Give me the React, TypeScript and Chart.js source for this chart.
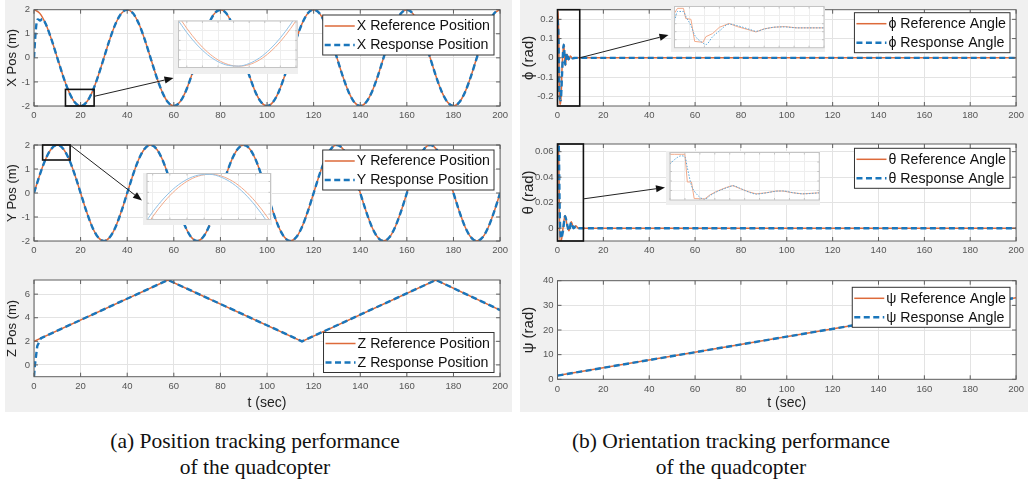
import React, { useEffect, useRef } from "react";
import { Chart, registerables } from "chart.js";

Chart.register(...registerables);

const SANS = '"Liberation Sans", Arial, Helvetica, sans-serif';
const SERIF = '"Liberation Serif", "Times New Roman", Times, serif';

const ORANGE = "#DD6A3A";
const BLUE = "#1A76BB";
const ORANGE_SOFT = "#F2AA8A";
const BLUE_SOFT = "#93C2E6";
const BLUE_DOT = "#5AA6DA";

// ---------- shared ticks ----------
const timeTicks = [0, 20, 40, 60, 80, 100, 120, 140, 160, 180, 200];

// ---------- (a) position tracking ----------
const tPos = [
  0, 2.5, 5, 7.5, 10, 12.5, 15, 17.5, 20, 22.5, 25, 27.5, 30, 32.5, 35, 37.5,
  40, 42.5, 45, 47.5, 50, 52.5, 55, 57.5, 60, 62.5, 65, 67.5, 70, 72.5, 75, 77.5,
  80, 82.5, 85, 87.5, 90, 92.5, 95, 97.5, 100, 102.5, 105, 107.5, 110, 112.5, 115, 117.5,
  120, 122.5, 125, 127.5, 130, 132.5, 135, 137.5, 140, 142.5, 145, 147.5, 150, 152.5, 155, 157.5,
  160, 162.5, 165, 167.5, 170, 172.5, 175, 177.5, 180, 182.5, 185, 187.5, 190, 192.5, 195, 197.5,
  200,
];
const xRef = [
  2, 1.848, 1.414, 0.765, 0, -0.765, -1.414, -1.848, -2, -1.848, -1.414, -0.765, 0, 0.765, 1.414, 1.848,
  2, 1.848, 1.414, 0.765, 0, -0.765, -1.414, -1.848, -2, -1.848, -1.414, -0.765, 0, 0.765, 1.414, 1.848,
  2, 1.848, 1.414, 0.765, 0, -0.765, -1.414, -1.848, -2, -1.848, -1.414, -0.765, 0, 0.765, 1.414, 1.848,
  2, 1.848, 1.414, 0.765, 0, -0.765, -1.414, -1.848, -2, -1.848, -1.414, -0.765, 0, 0.765, 1.414, 1.848,
  2, 1.848, 1.414, 0.765, 0, -0.765, -1.414, -1.848, -2, -1.848, -1.414, -0.765, 0, 0.765, 1.414, 1.848,
  2,
];
const tXRespStart = [0, 0.5, 1.1, 1.7, 2.6, 3.6];
const xRespStart = [0, 0.8, 1.45, 1.6, 1.55, 1.62];
const tXResp = [...tXRespStart, ...tPos.slice(2)];
const xResp = [...xRespStart, ...xRef.slice(2)];

const yRef = [
  0, 0.765, 1.414, 1.848, 2, 1.848, 1.414, 0.765, 0, -0.765, -1.414, -1.848, -2, -1.848, -1.414, -0.765,
  0, 0.765, 1.414, 1.848, 2, 1.848, 1.414, 0.765, 0, -0.765, -1.414, -1.848, -2, -1.848, -1.414, -0.765,
  0, 0.765, 1.414, 1.848, 2, 1.848, 1.414, 0.765, 0, -0.765, -1.414, -1.848, -2, -1.848, -1.414, -0.765,
  0, 0.765, 1.414, 1.848, 2, 1.848, 1.414, 0.765, 0, -0.765, -1.414, -1.848, -2, -1.848, -1.414, -0.765,
  0, 0.765, 1.414, 1.848, 2, 1.848, 1.414, 0.765, 0, -0.765, -1.414, -1.848, -2, -1.848, -1.414, -0.765,
  0,
];
const yResp = yRef.slice();

const tZRef = [0, 57.5, 115, 172.5, 200];
const zRef = [2, 7.2, 2, 7.2, 4.65];
const tZResp = [0, 0.4, 1.4, 3, 57.5, 115, 172.5, 200];
const zResp = [-1, 0, 1.6, 2.27, 7.2, 2, 7.2, 4.65];

// insets of (a)
const tXIn = [14, 15, 16, 17, 18, 19, 20, 21, 22, 23, 24, 25, 26];
const xInRef = [-1.176, -1.414, -1.618, -1.782, -1.902, -1.975, -2, -1.975, -1.902, -1.782, -1.618, -1.414, -1.176];
const xInResp = [-1.25, -1.479, -1.672, -1.823, -1.929, -1.988, -1.998, -1.958, -1.871, -1.737, -1.561, -1.347, -1.098];
const tYIn = [4, 5, 6, 7, 8, 9, 10, 11, 12, 13, 14, 15, 16];
const yInRef = [1.176, 1.414, 1.618, 1.782, 1.902, 1.975, 2, 1.975, 1.902, 1.782, 1.618, 1.414, 1.176];
const yInResp = [1.25, 1.479, 1.672, 1.823, 1.929, 1.988, 1.998, 1.958, 1.871, 1.737, 1.561, 1.347, 1.098];

// ---------- (b) orientation tracking ----------
const tPhi = [0, 0.4, 0.9, 1.4, 2.0, 2.7, 3.4, 4.1, 4.8, 5.6, 6.5, 8, 10, 200];
const phiRef = [0.24, 0.24, -0.24, -0.24, -0.05, 0.07, -0.04, 0.02, -0.01, 0.01, -0.003, 0, 0, 0];
const phiResp = [0.2, 0.12, -0.2, -0.22, -0.08, 0.068, -0.035, 0.024, -0.008, 0.008, -0.002, 0, 0, 0];

const tTheta = [0, 0.5, 1.0, 1.6, 2.4, 3.3, 4.2, 5.0, 6.0, 7.0, 8.0, 9.0, 11, 200];
const thetaRef = [0.066, 0.066, -0.01, -0.01, 0.0, 0.01, 0.002, -0.002, 0.005, 0.0, 0.002, 0, 0, 0];
const thetaResp = [0.06, 0.066, 0.01, -0.008, -0.002, 0.0095, 0.003, -0.002, 0.0045, 0, 0.0015, 0, 0, 0];

const tPsi = [0, 200];
const psiRef = [1.5, 33.1];
const psiResp = [1.5, 33.1];

// insets of (b) (normalised zoom windows)
const uPhi = [0, 0.2, 0.6, 0.75, 1.1, 1.35, 1.9, 2.1, 2.55, 3.0, 3.65, 4.2, 5.1, 5.45, 6.0, 6.65, 7.35, 8.2, 10];
const phiInRef = [0.866, 0.984, 0.984, 0.73, 0.71, 0.157, 0.134, 0.276, 0.354, 0.51, 0.606, 0.528, 0.433, 0.394, 0.472, 0.512, 0.528, 0.496, 0.496];
const phiInResp = [0.67, 0.906, 0.906, 0.787, 0.551, 0.315, 0.118, 0.079, 0.276, 0.417, 0.59, 0.551, 0.449, 0.41, 0.465, 0.512, 0.52, 0.496, 0.496];

const uTheta = [0, 0.3, 0.75, 1.0, 1.16, 1.44, 1.62, 2.33, 2.67, 3.11, 3.78, 4.22, 4.67, 5.33, 5.78, 6.44, 7.11, 7.56, 8.22, 8.89, 10];
const thetaInRef = [0.962, 0.962, 0.962, 0.962, 0.379, 0.379, 0.03, 0.023, 0.106, 0.18, 0.265, 0.303, 0.242, 0.167, 0.129, 0.152, 0.189, 0.189, 0.152, 0.129, 0.152];
const thetaInResp = [0.758, 0.85, 0.93, 0.909, 0.68, 0.303, 0.19, 0.015, 0.09, 0.17, 0.255, 0.3, 0.25, 0.16, 0.125, 0.15, 0.185, 0.19, 0.155, 0.13, 0.15];

// ---------- types ----------
type Series = { t: number[]; v: number[]; color: string; width: number; dash?: number[]; smooth?: boolean };
type PlotCfg = {
  left: number; top: number; width: number; height: number;
  area: { left: number; top: number; right: number; bottom: number };
  xMin: number; xMax: number; xTicks: number[];
  yMin: number; yMax: number; yTicks: number[];
  labels: boolean;
  inset?: boolean;
  yTitle?: string; yTitleX?: number; yTitleSize?: number;
  xTitle?: string; xTitleY?: number;
  series: Series[];
  legend?: { labels: string[]; top: number; right: number; size: number };
  box?: { x0: number; x1: number; y0: number; y1: number };
  arrow?: { fx: number; fy: number; tx: number; ty: number };
};

const fmt = (v: number) => String(Math.round(v * 1000) / 1000);

function buildChart(canvas: HTMLCanvasElement, cfg: PlotCfg) {
  const padTop = cfg.area.top - cfg.top;
  const padRight = cfg.left + cfg.width - cfg.area.right;
  const yW = cfg.area.left - cfg.left;
  const xH = cfg.top + cfg.height - cfg.area.bottom;
  const ySize = cfg.yTitleSize ?? 11;
  const yTitlePad = cfg.yTitleX != null ? cfg.yTitleX - cfg.left - (ySize * 1.2) / 2 : 0;
  const xSize = 14;
  const xTitlePad = cfg.xTitleY != null ? Math.max(0, cfg.top + cfg.height - cfg.xTitleY - (xSize * 1.2) / 2) : 0;
  const boxColor = cfg.inset ? "#c4c4c4" : "#5e5e5e";
  const gridColor = cfg.inset ? "#eeeeee" : "#e3e3e3";
  const tickLen = cfg.inset ? 2 : 4;

  const frame = {
    id: "frame",
    beforeDraw(chart: any) {
      const { ctx, chartArea: a } = chart;
      ctx.save();
      if (cfg.inset) {
        ctx.fillStyle = "#efefef";
        ctx.fillRect(0, 0, chart.width, chart.height);
      }
      ctx.fillStyle = "#ffffff";
      ctx.fillRect(a.left, a.top, a.right - a.left, a.bottom - a.top);
      ctx.restore();
    },
    afterDatasetsDraw(chart: any) {
      const { ctx, chartArea: a, scales } = chart;
      const xs = scales.x, ys = scales.y;
      ctx.save();
      // inward ticks on all four sides
      ctx.strokeStyle = boxColor;
      ctx.lineWidth = 1;
      ctx.beginPath();
      for (const v of cfg.xTicks) {
        const px = xs.getPixelForValue(v);
        ctx.moveTo(px, a.bottom); ctx.lineTo(px, a.bottom - tickLen);
        ctx.moveTo(px, a.top); ctx.lineTo(px, a.top + tickLen);
      }
      for (const v of cfg.yTicks) {
        const py = ys.getPixelForValue(v);
        ctx.moveTo(a.left, py); ctx.lineTo(a.left + tickLen, py);
        ctx.moveTo(a.right, py); ctx.lineTo(a.right - tickLen, py);
      }
      ctx.stroke();
      ctx.strokeRect(a.left, a.top, a.right - a.left, a.bottom - a.top);

      // zoom rectangle
      if (cfg.box) {
        const b = cfg.box;
        const x0 = xs.getPixelForValue(b.x0), x1 = xs.getPixelForValue(b.x1);
        const y0 = ys.getPixelForValue(b.y0), y1 = ys.getPixelForValue(b.y1);
        ctx.strokeStyle = "#111";
        ctx.lineWidth = 1.6;
        ctx.strokeRect(x0, y1, x1 - x0, y0 - y1);
      }
      // arrow to inset
      if (cfg.arrow) {
        const ar = cfg.arrow;
        const fx = xs.getPixelForValue(ar.fx), fy = ys.getPixelForValue(ar.fy);
        const tx = ar.tx - cfg.left, ty = ar.ty - cfg.top;
        const ang = Math.atan2(ty - fy, tx - fx);
        const hl = 9, hw = 3.5;
        const bx = tx - hl * Math.cos(ang), by = ty - hl * Math.sin(ang);
        ctx.strokeStyle = "#222";
        ctx.lineWidth = 1;
        ctx.beginPath();
        ctx.moveTo(fx, fy);
        ctx.lineTo(bx, by);
        ctx.stroke();
        ctx.fillStyle = "#111";
        ctx.beginPath();
        ctx.moveTo(tx, ty);
        ctx.lineTo(bx + hw * Math.sin(ang), by - hw * Math.cos(ang));
        ctx.lineTo(bx - hw * Math.sin(ang), by + hw * Math.cos(ang));
        ctx.closePath();
        ctx.fill();
      }
      // legend
      if (cfg.legend) {
        const L = cfg.legend;
        ctx.font = `${L.size}px ${SANS}`;
        const tw = Math.max(...L.labels.map((s) => ctx.measureText(s).width));
        const w = 34 + tw + 4;
        const h = 40;
        const right = L.right - cfg.left;
        const top = L.top - cfg.top;
        const left = right - w;
        ctx.fillStyle = "#fff";
        ctx.fillRect(left, top, w, h);
        ctx.strokeStyle = "#333";
        ctx.lineWidth = 1;
        ctx.strokeRect(left, top, w, h);
        const rows = [top + 11, top + 30];
        cfg.series.slice(0, 2).forEach((s, i) => {
          ctx.beginPath();
          ctx.strokeStyle = s.color;
          ctx.lineWidth = s.width;
          ctx.setLineDash(s.dash ?? []);
          ctx.moveTo(left + 2, rows[i]);
          ctx.lineTo(left + 32, rows[i]);
          ctx.stroke();
        });
        ctx.setLineDash([]);
        ctx.fillStyle = "#111";
        ctx.textAlign = "left";
        ctx.textBaseline = "middle";
        L.labels.forEach((s, i) => ctx.fillText(s, left + 34, rows[i] + 0.5));
      }
      ctx.restore();
    },
  };

  const n = cfg.series.length;
  return new Chart(canvas, {
    type: "line",
    data: {
      datasets: cfg.series.map((s, i) => ({
        data: s.t.map((t, k) => ({ x: t, y: s.v[k] })),
        borderColor: s.color,
        borderWidth: s.width,
        borderDash: s.dash ?? [],
        pointRadius: 0,
        fill: false,
        tension: 0,
        cubicInterpolationMode: s.smooth ? "monotone" : "default",
        order: n - i,
      })),
    },
    options: {
      animation: false,
      responsive: false,
      devicePixelRatio: 1,
      events: [],
      layout: { padding: { top: padTop, right: padRight, left: 0, bottom: 0 } },
      plugins: { legend: { display: false }, tooltip: { enabled: false }, title: { display: false } },
      scales: {
        x: {
          type: "linear",
          min: cfg.xMin,
          max: cfg.xMax,
          afterBuildTicks: (sc: any) => { sc.ticks = cfg.xTicks.map((v) => ({ value: v })); },
          afterFit: (sc: any) => { sc.height = xH; },
          ticks: {
            display: cfg.labels,
            autoSkip: false,
            maxRotation: 0,
            padding: 4,
            color: "#555",
            font: { family: SANS, size: 9.5 },
            callback: (v: any) => fmt(Number(v)),
          },
          grid: { color: gridColor, drawTicks: false, lineWidth: 1 },
          border: { display: false },
          title: {
            display: !!cfg.xTitle,
            text: cfg.xTitle ?? "",
            color: "#222",
            font: { family: SANS, size: xSize },
            padding: { top: 0, bottom: xTitlePad },
          },
        },
        y: {
          type: "linear",
          min: cfg.yMin,
          max: cfg.yMax,
          afterBuildTicks: (sc: any) => { sc.ticks = cfg.yTicks.map((v) => ({ value: v })); },
          afterFit: (sc: any) => { sc.width = yW; },
          ticks: {
            display: cfg.labels,
            autoSkip: false,
            padding: 4,
            color: "#555",
            font: { family: SANS, size: 9.5 },
            callback: (v: any) => fmt(Number(v)),
          },
          grid: { color: gridColor, drawTicks: false, lineWidth: 1 },
          border: { display: false },
          title: {
            display: !!cfg.yTitle,
            text: cfg.yTitle ?? "",
            color: "#222",
            font: { family: SANS, size: ySize },
            padding: { top: yTitlePad, bottom: 0 },
          },
        },
      },
    } as any,
    plugins: [frame as any],
  });
}

function Plot({ cfg }: { cfg: PlotCfg }) {
  const ref = useRef<HTMLCanvasElement>(null);
  useEffect(() => {
    const chart = buildChart(ref.current as HTMLCanvasElement, cfg);
    return () => chart.destroy();
  }, [cfg]);
  return (
    <canvas
      ref={ref}
      width={cfg.width}
      height={cfg.height}
      style={{ position: "absolute", left: cfg.left, top: cfg.top, width: cfg.width, height: cfg.height }}
    />
  );
}

const refLine = (t: number[], v: number[], smooth = false): Series => ({ t, v, color: ORANGE, width: 1.5, smooth });
const respLine = (t: number[], v: number[], smooth = false): Series => ({ t, v, color: BLUE, width: 2.4, dash: [6, 3.5], smooth });

const L_COL = { left: 0, width: 512, aLeft: 34, aRight: 502 };
const R_COL = { left: 515, width: 513, aLeft: 557.5, aRight: 1017.5 };
const LEG = 14.2;
const YT_L = 13;
const YT_R = 15;

const plots: PlotCfg[] = [
  {
    left: L_COL.left, top: 0, width: L_COL.width, height: 125,
    area: { left: L_COL.aLeft, top: 9.5, right: L_COL.aRight, bottom: 106 },
    xMin: 0, xMax: 200, xTicks: timeTicks, yMin: -2, yMax: 2, yTicks: [-2, -1, 0, 1, 2],
    labels: true, yTitle: "X Pos (m)", yTitleX: 12, yTitleSize: YT_L,
    series: [refLine(tPos, xRef, true), respLine(tXResp, xResp, true)],
    legend: { labels: ["X Reference Position", "X Response Position"], top: 15, right: 494, size: LEG },
    box: { x0: 13.5, x1: 25.8, y0: -2, y1: -1.31 },
    arrow: { fx: 25.8, fy: -1.6, tx: 173.5, ty: 78 },
  },
  {
    left: L_COL.left, top: 125, width: L_COL.width, height: 135,
    area: { left: L_COL.aLeft, top: 145, right: L_COL.aRight, bottom: 241 },
    xMin: 0, xMax: 200, xTicks: timeTicks, yMin: -2, yMax: 2, yTicks: [-2, -1, 0, 1, 2],
    labels: true, yTitle: "Y Pos (m)", yTitleX: 12, yTitleSize: YT_L,
    series: [refLine(tPos, yRef, true), respLine(tPos, yResp, true)],
    legend: { labels: ["Y Reference Position", "Y Response Position"], top: 150, right: 494, size: LEG },
    box: { x0: 3.7, x1: 15.5, y0: 1.375, y1: 2 },
    arrow: { fx: 15.5, fy: 2, tx: 142, ty: 200.5 },
  },
  {
    left: L_COL.left, top: 260, width: L_COL.width, height: 152,
    area: { left: L_COL.aLeft, top: 280, right: L_COL.aRight, bottom: 376.7 },
    xMin: 0, xMax: 200, xTicks: timeTicks, yMin: -1, yMax: 7.2, yTicks: [0, 2, 4, 6],
    labels: true, yTitle: "Z Pos (m)", yTitleX: 12, yTitleSize: YT_L,
    xTitle: "t (sec)", xTitleY: 403,
    series: [refLine(tZRef, zRef), respLine(tZResp, zResp)],
    legend: { labels: ["Z Reference Position", "Z Response Position"], top: 332.5, right: 494, size: LEG },
  },
  {
    left: R_COL.left, top: 0, width: R_COL.width, height: 125,
    area: { left: R_COL.aLeft, top: 6, right: R_COL.aRight, bottom: 106 },
    xMin: 0, xMax: 200, xTicks: timeTicks, yMin: -0.25, yMax: 0.25, yTicks: [-0.2, -0.1, 0, 0.1, 0.2],
    labels: true, yTitle: "ϕ (rad)", yTitleX: 529, yTitleSize: YT_R,
    series: [refLine(tPhi, phiRef, true), respLine(tPhi, phiResp, true)],
    legend: { labels: ["ϕ Reference Angle", "ϕ Response Angle"], top: 12.7, right: 1010, size: LEG },
    box: { x0: 0, x1: 9.7, y0: -0.25, y1: 0.25 },
    arrow: { fx: 9.7, fy: 0, tx: 668.5, ty: 35 },
  },
  {
    left: R_COL.left, top: 125, width: R_COL.width, height: 135,
    area: { left: R_COL.aLeft, top: 144, right: R_COL.aRight, bottom: 241 },
    xMin: 0, xMax: 200, xTicks: timeTicks, yMin: -0.01, yMax: 0.066, yTicks: [0, 0.02, 0.04, 0.06],
    labels: true, yTitle: "θ (rad)", yTitleX: 529, yTitleSize: YT_R,
    series: [refLine(tTheta, thetaRef, true), respLine(tTheta, thetaResp, true)],
    legend: { labels: ["θ Reference Angle", "θ Response Angle"], top: 148.3, right: 1010, size: LEG },
    box: { x0: 0, x1: 11.3, y0: -0.01, y1: 0.066 },
    arrow: { fx: 11.3, fy: 0.023, tx: 665, ty: 187.5 },
  },
  {
    left: R_COL.left, top: 260, width: R_COL.width, height: 152,
    area: { left: R_COL.aLeft, top: 280.7, right: R_COL.aRight, bottom: 379.3 },
    xMin: 0, xMax: 200, xTicks: timeTicks, yMin: 0, yMax: 40, yTicks: [0, 10, 20, 30, 40],
    labels: true, yTitle: "ψ (rad)", yTitleX: 529, yTitleSize: YT_R,
    xTitle: "t (sec)", xTitleY: 404,
    series: [refLine(tPsi, psiRef), respLine(tPsi, psiResp)],
    legend: { labels: ["ψ Reference Angle", "ψ Response Angle"], top: 287.3, right: 1010, size: LEG },
  },
];

const softRef = (t: number[], v: number[], smooth: boolean): Series => ({ t, v, color: ORANGE_SOFT, width: 1, smooth });
const softResp = (t: number[], v: number[], smooth: boolean, dotted = false): Series => ({
  t, v, color: dotted ? BLUE_DOT : BLUE_SOFT, width: 1, smooth, dash: dotted ? [1.5, 1.5] : [],
});

const insets: PlotCfg[] = [
  {
    left: 174, top: 20, width: 124, height: 54, inset: true, labels: false,
    area: { left: 178.5, top: 21, right: 297, bottom: 67.5 },
    xMin: 14.2, xMax: 25.6, xTicks: [15, 16.5, 18, 19.5, 21, 22.5, 24, 25.5],
    yMin: -2.02, yMax: -1.3, yTicks: [-1.9, -1.75, -1.6, -1.45],
    series: [softRef(tXIn, xInRef, true), softResp(tXIn, xInResp, true)],
  },
  {
    left: 143, top: 173, width: 129, height: 52, inset: true, labels: false,
    area: { left: 147, top: 173.5, right: 270.5, bottom: 219.5 },
    xMin: 4.5, xMax: 15.3, xTicks: [5, 6.5, 8, 9.5, 11, 12.5, 14],
    yMin: 1.375, yMax: 2.01, yTicks: [1.45, 1.6, 1.75, 1.9],
    series: [softRef(tYIn, yInRef, true), softResp(tYIn, yInResp, true)],
  },
  {
    left: 671, top: 5, width: 154, height: 47, inset: true, labels: false,
    area: { left: 674.5, top: 6.5, right: 824, bottom: 47.7 },
    xMin: 0, xMax: 10, xTicks: [0, 1, 2, 3, 4, 5, 6, 7, 8, 9, 10],
    yMin: 0, yMax: 1.03, yTicks: [0.2, 0.4, 0.6, 0.8],
    series: [softRef(uPhi, phiInRef, false), softResp(uPhi, phiInResp, true, true)],
  },
  {
    left: 666, top: 151, width: 154, height: 54, inset: true, labels: false,
    area: { left: 670, top: 152.5, right: 819.3, bottom: 200 },
    xMin: 0, xMax: 10, xTicks: [0, 1, 2, 3, 4, 5, 6, 7, 8, 9, 10],
    yMin: 0, yMax: 1.0, yTicks: [0.2, 0.4, 0.6, 0.8],
    series: [softRef(uTheta, thetaInRef, false), softResp(uTheta, thetaInResp, true, true)],
  },
];

const captionStyle: React.CSSProperties = {
  position: "absolute",
  width: 500,
  textAlign: "center",
  fontFamily: SERIF,
  fontSize: 21.5,
  lineHeight: "26px",
  color: "#111",
};

export default function App() {
  return (
    <div style={{ position: "absolute", left: 0, top: 0, width: 1028, height: 489, background: "#fff", overflow: "hidden" }}>
      <div style={{ position: "absolute", left: 5, top: 0, width: 507, height: 412, background: "#f0f0f0" }} />
      <div style={{ position: "absolute", left: 520, top: 0, width: 508, height: 412, background: "#f0f0f0" }} />
      {plots.map((p, i) => (
        <Plot key={"p" + i} cfg={p} />
      ))}
      {insets.map((p, i) => (
        <Plot key={"i" + i} cfg={p} />
      ))}
      <div style={{ ...captionStyle, left: 5, top: 428 }}>
        (a) Position tracking performance
        <br />
        of the quadcopter
      </div>
      <div style={{ ...captionStyle, left: 481, top: 428 }}>
        (b) Orientation tracking performance
        <br />
        of the quadcopter
      </div>
    </div>
  );
}
